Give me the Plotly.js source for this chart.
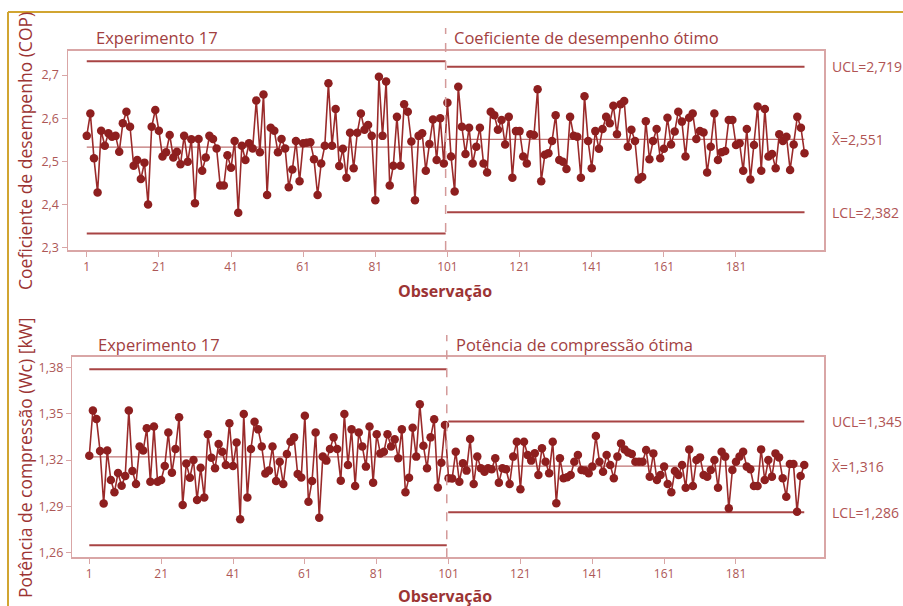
<!DOCTYPE html>
<html>
<head>
<meta charset="utf-8">
<script src="https://cdn.plot.ly/plotly-3.0.1.min.js"></script>
<style>
html,body{margin:0;padding:0;background:#fff;}
#chart{width:903px;height:606px;}
</style>
</head>
<body>
<div id="chart"></div>
<script>
// ---------- DATA ----------
const copExperimento = [
2.559,2.611,2.507,2.428,2.571,2.536,2.565,2.557,2.559,2.522,
2.588,2.615,2.580,2.490,2.503,2.459,2.497,2.400,2.580,2.619,
2.571,2.511,2.521,2.561,2.509,2.522,2.493,2.559,2.499,2.551,
2.403,2.552,2.478,2.509,2.559,2.552,2.530,2.444,2.444,2.514,
2.485,2.547,2.381,2.536,2.503,2.542,2.530,2.641,2.521,2.655,
2.422,2.578,2.571,2.521,2.552,2.530,2.440,2.481,2.547,2.454,
2.542,2.543,2.544,2.505,2.422,2.495,2.536,2.681,2.536,2.621,
2.489,2.529,2.462,2.566,2.484,2.566,2.611,2.573,2.584,2.559,
2.410,2.696,2.559,2.685,2.444,2.490,2.603,2.490,2.632,2.615,
2.546,2.410,2.559,2.565,2.478,2.540,2.597,2.503,2.600,2.495];
const copOtimo = [
2.636,2.511,2.430,2.673,2.580,2.517,2.578,2.495,2.534,2.578,
2.495,2.474,2.615,2.607,2.573,2.596,2.539,2.603,2.462,2.570,
2.570,2.511,2.495,2.563,2.561,2.667,2.454,2.515,2.519,2.547,
2.607,2.503,2.499,2.482,2.603,2.559,2.557,2.462,2.651,2.547,
2.484,2.570,2.529,2.575,2.603,2.588,2.629,2.563,
2.632,2.640,2.534,2.573,2.547,2.458,2.464,2.593,2.505,2.547,
2.575,2.507,2.529,2.601,2.539,2.569,2.615,2.592,2.511,2.601,
2.611,2.552,2.570,2.567,2.474,2.534,2.611,2.503,2.521,2.524,
2.596,2.596,2.538,2.542,2.478,2.575,2.458,2.538,2.627,2.478,
2.621,2.511,2.517,2.484,2.563,2.547,2.557,2.480,2.539,2.603,
2.578,2.519];
const wcExperimento = [
1.3228,1.3521,1.3466,1.3258,1.2918,1.3261,1.3070,1.2990,1.3116,1.3033,
1.3096,1.3521,1.3129,1.3044,1.3287,1.3261,1.3406,1.3059,1.3417,1.3059,
1.3070,1.3161,1.3378,1.3118,1.3272,1.3477,1.2908,1.3178,1.3085,1.3200,
1.2940,1.3150,1.2957,1.3367,1.3215,1.3146,1.3304,1.3254,1.3168,1.3438,
1.3161,1.3313,1.2815,1.3499,1.2957,1.3272,1.3449,1.3399,1.3287,1.3113,
1.3131,1.3287,1.3064,1.3189,1.3044,1.3239,1.3319,1.3347,1.3109,1.3087,
1.3488,1.2929,1.3064,1.3378,1.2825,1.3222,1.3196,1.3272,1.3347,1.3272,
1.3066,1.3499,1.3168,1.3399,1.3031,1.3378,1.3287,1.3157,1.3417,1.3053,
1.3367,1.3243,1.3254,1.3367,1.3287,1.3334,1.3211,1.3399,1.2990,1.3085,
1.3410,1.3222,1.3562,1.3293,1.3146,1.3347,1.3464,1.3022,1.3182,1.3427];
const wcOtimo = [
1.3081,1.3080,1.3254,1.3059,1.3179,1.3131,1.3337,1.3044,1.3222,1.3146,
1.3124,1.3146,1.3140,1.3211,1.3053,1.3146,1.3140,1.3044,1.3222,1.3319,
1.3010,1.3319,1.3233,1.3196,1.3244,1.3103,1.3276,1.3189,1.3114,1.3319,
1.2919,1.3211,1.3081,1.3088,1.3103,1.3189,1.3233,1.3135,1.3131,1.3114,
1.3157,1.3356,1.3189,1.3124,1.3233,1.3168,1.3081,1.3222,
1.3308,1.3269,1.3248,1.3239,1.3189,1.3189,1.3189,1.3265,1.3092,1.3243,
1.3070,1.3103,1.3157,1.3044,1.2990,1.3129,1.3103,1.3168,1.3020,1.3269,
1.3031,1.3200,1.3217,1.3103,1.3092,1.3135,1.3200,1.3020,1.3254,1.3222,
1.2886,1.3135,1.3189,1.3222,1.3254,1.3157,1.3140,1.3031,1.3031,1.3269,
1.3070,1.3200,1.3092,1.3243,1.3217,1.3081,1.2962,1.3174,1.3174,1.2864,
1.3096,1.3167];

// control limits: [Experimento 17, ótimo]
const copUCL = [2.732, 2.719];
const copCL  = [2.533, 2.551];
const copLCL = [2.333, 2.382];
const wcUCL = [1.379, 1.345];
const wcCL  = [1.322, 1.316];
const wcLCL = [1.2647, 1.286];

const xTickVals = [1,21,41,61,81,101,121,141,161,181];
const xTickText = ['1','21','41','61','81','101','121','141','161','181'];
const copTicks = [2.3,2.4,2.5,2.6,2.7];
const wcTicks = [1.26,1.29,1.32,1.35,1.38];

const phaseLabels = ['Experimento 17','Coeficiente de desempenho ótimo','Potência de compressão ótima'];

// ---------- BUILD ----------
const W = 903, H = 606;
const px = v => v / W;
const py = v => 1 - v / H;

const dataCol = '#8e1f1f';
const limCol = '#a84444';
const clCol = '#bf7373';
const frameCol = '#d9a6a6';
const txtCol = '#a2403f';
const tickCol = '#ad5756';
const FONT = 'Open Sans, Noto Sans, sans-serif';

const obs = copExperimento.concat(copOtimo).map((_, i) => i + 1);
const copAll = copExperimento.concat(copOtimo);
const wcAll = wcExperimento.concat(wcOtimo);

function limitTraces(arr, xa, ya, col, w) {
  return [
    {x:[1,100.5], y:[arr[0],arr[0]], xaxis:xa, yaxis:ya, mode:'lines', line:{color:col,width:w}, hoverinfo:'skip', showlegend:false},
    {x:[100.9,200], y:[arr[1],arr[1]], xaxis:xa, yaxis:ya, mode:'lines', line:{color:col,width:w}, hoverinfo:'skip', showlegend:false}
  ];
}

const traces = [].concat(
  limitTraces(copUCL,'x','y',limCol,2),
  limitTraces(copLCL,'x','y',limCol,2),
  limitTraces(copCL,'x','y',clCol,1.3),
  limitTraces(wcUCL,'x2','y2',limCol,2),
  limitTraces(wcLCL,'x2','y2',limCol,2),
  limitTraces(wcCL,'x2','y2',clCol,1.3),
  [
    {x:obs, y:copAll, xaxis:'x', yaxis:'y', mode:'lines+markers',
     line:{color:'#9a2a2a',width:1.6}, marker:{color:dataCol,size:8.5}, showlegend:false},
    {x:obs, y:wcAll, xaxis:'x2', yaxis:'y2', mode:'lines+markers',
     line:{color:'#9a2a2a',width:1.6}, marker:{color:dataCol,size:8.5}, showlegend:false}
  ]
);

const axX = (domain) => ({
  domain: domain, range: null, showgrid:false, zeroline:false,
  showline:true, mirror:true, linecolor:frameCol, linewidth:1.5,
  ticks:'outside', ticklen:5, tickwidth:1, tickcolor:frameCol,
  tickvals:xTickVals, ticktext:xTickText,
  tickfont:{family:FONT,size:12,color:tickCol}
});
const axY = (domain, ticks, fmt) => ({
  domain: domain, showgrid:false, zeroline:false,
  showline:true, mirror:true, linecolor:frameCol, linewidth:1.5,
  ticks:'outside', ticklen:5, tickwidth:1, tickcolor:frameCol,
  tickvals:ticks, tickformat:fmt,
  tickfont:{family:FONT,size:12.5,color:tickCol}
});

const xa1 = axX([px(68), px(824)]); xa1.range = [-4.2, 205.4]; xa1.anchor = 'y';
const ya1 = axY([py(250), py(50.7)], copTicks, '.1f'); ya1.range = [2.2946, 2.7563]; ya1.anchor = 'x';
const xa2 = axX([px(72.3), px(824)]); xa2.range = [-3.73, 205.5]; xa2.anchor = 'y2';
const ya2 = axY([py(557.3), py(356.7)], wcTicks, '.2f'); ya2.range = [1.2568, 1.3871]; ya2.anchor = 'x2';

function ann(text, x, y, opts) {
  return Object.assign({text:text, xref:'paper', yref:'paper', x:px(x), y:py(y),
    showarrow:false, xanchor:'left', yanchor:'middle',
    font:{family:FONT,size:16.5,color:txtCol}}, opts || {});
}
function limAnn(text, val, yref) {
  return {text:text, xref:'paper', yref:yref, x:px(830), y:val, showarrow:false,
    xanchor:'left', yanchor:'middle', font:{family:FONT,size:14,color:'#b05454'}};
}
const fmt = (v, d) => v.toFixed(d).replace('.', ',');

const annotations = [
  ann(phaseLabels[0], 94, 38),
  ann(phaseLabels[1], 452, 38),
  ann(phaseLabels[0], 96, 345),
  ann(phaseLabels[2], 454, 345),
  ann('Coeficiente de desempenho (COP)', 25, 151, {textangle:-90, xanchor:'center', font:{family:FONT,size:17.5,color:'#9c3434'}}),
  ann('Potência de compressão (Wc) [kW]', 25, 458, {textangle:-90, xanchor:'center', font:{family:FONT,size:17.5,color:'#9c3434'}}),
  ann('<b>Observação</b>', 445, 291, {xanchor:'center', font:{family:FONT,size:16,color:'#9c3434'}}),
  ann('<b>Observação</b>', 445, 596, {xanchor:'center', font:{family:FONT,size:16,color:'#9c3434'}}),
  limAnn('UCL=' + fmt(copUCL[1],3), copUCL[1], 'y'),
  limAnn('X\u0304=' + fmt(copCL[1],3), copCL[1], 'y'),
  limAnn('LCL=' + fmt(copLCL[1],3), copLCL[1], 'y'),
  limAnn('UCL=' + fmt(wcUCL[1],3), wcUCL[1], 'y2'),
  limAnn('X\u0304=' + fmt(wcCL[1],3), wcCL[1], 'y2'),
  limAnn('LCL=' + fmt(wcLCL[1],3), wcLCL[1], 'y2')
];

const shapes = [
  {type:'line', xref:'x', yref:'paper', x0:100.5, x1:100.5, y0:py(250), y1:py(28),
   line:{color:'#d49a9a', width:1.5, dash:'dash'}},
  {type:'line', xref:'x2', yref:'paper', x0:100.5, x1:100.5, y0:py(557.3), y1:py(335),
   line:{color:'#d49a9a', width:1.5, dash:'dash'}},
  // golden frame of the figure
  {type:'line', xref:'paper', yref:'paper', x0:px(8), x1:1, y0:py(12), y1:py(12), line:{color:'#d1a531', width:2}},
  {type:'line', xref:'paper', yref:'paper', x0:px(8), x1:px(8), y0:py(12), y1:0, line:{color:'#d1a531', width:2}}
];

const layout = {
  width:W, height:H, margin:{l:0,r:0,t:0,b:0},
  paper_bgcolor:'#ffffff', plot_bgcolor:'#ffffff',
  separators:',.',
  showlegend:false,
  xaxis:xa1, yaxis:ya1, xaxis2:xa2, yaxis2:ya2,
  annotations:annotations, shapes:shapes,
  font:{family:FONT}
};

Plotly.newPlot('chart', traces, layout, {staticPlot:true, displayModeBar:false});
</script>
</body>
</html>
